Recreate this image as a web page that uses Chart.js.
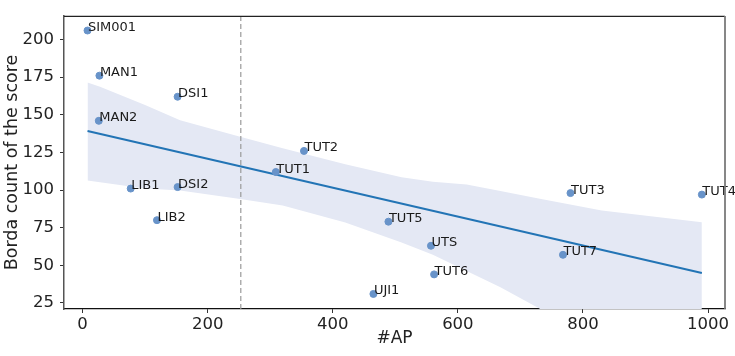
<!DOCTYPE html>
<html>
<head>
<meta charset="utf-8">
<script src="https://cdn.jsdelivr.net/npm/chart.js@4/dist/chart.umd.min.js"></script>
<style>
    html, body { margin: 0; padding: 0; background: #fff; }
    #wrap { width: 735px; height: 356px; }
</style>
</head>
<body>
<div id="wrap"><canvas id="chart"></canvas></div>
<script>
// Données
const names = ['SIM001', 'MAN1', 'MAN2', 'DSI1', 'LIB1', 'DSI2', 'LIB2', 'TUT1', 'TUT2',
               'TUT5', 'UTS', 'TUT6', 'UJI1', 'TUT3', 'TUT4', 'TUT7'];
const apCount = [8, 27, 26, 152, 77, 152, 119, 309, 354, 489, 557, 562, 465, 780, 990, 768];
const bordaScore = [206, 176, 146, 162, 101, 102, 80, 112, 126, 79, 63, 44, 31, 98, 97, 57];

// Droite de régression (extrémités)
const regX = [8, 990];
const regY = [139.3, 44.9];

// Intervalle de confiance
const bandX = [8, 28, 100, 156, 252, 320, 420, 510, 560, 614, 668, 731, 830, 990];
const bandUpper = [171.4, 168.7, 156.5, 146.3, 135.4, 127.8, 117.1, 108.6, 105.6, 103.7, 99.4, 94.3, 86.4, 78.6];
const bandLower = [106.3, 105.2, 101.0, 99.8, 94.1, 89.8, 78.5, 65.1, 57.1, 46.2, 35.5, 21.1, -2, -38];

// Seuil vertical
const thresholdX = 253;

// Axes
const xLimits = [-29.6, 1027];
const yLimits = [21.0, 215.7];
const xTicks = [0, 200, 400, 600, 800, 1000];
const yTicks = [25, 50, 75, 100, 125, 150, 175, 200];

const FONT = 'DejaVu Sans';

function toXY(xs, ys) {
    return xs.map((x, i) => ({ x: x, y: ys[i] }));
}

// Étiquettes des points + cadre haut/droite
const extras = {
    id: 'extras',
    afterDatasetsDraw(chart) {
        const ctx = chart.ctx;
        const meta = chart.getDatasetMeta(0);
        ctx.save();
        ctx.font = '13px "' + FONT + '"';
        ctx.fillStyle = '#1a1a1a';
        ctx.textAlign = 'left';
        ctx.textBaseline = 'alphabetic';
        meta.data.forEach((pt, i) => {
            ctx.fillText(names[i], pt.x + 0.5, pt.y + 0.5);
        });
        ctx.restore();
    },
    afterDraw(chart) {
        const a = chart.chartArea;
        const ctx = chart.ctx;
        ctx.save();
        ctx.strokeStyle = '#222';
        ctx.lineWidth = 1.2;
        ctx.beginPath();
        ctx.moveTo(a.left, a.top + 0.5);
        ctx.lineTo(a.right, a.top + 0.5);
        ctx.stroke();
        ctx.strokeStyle = '#7a7a7a';
        ctx.lineWidth = 1.8;
        ctx.beginPath();
        ctx.moveTo(a.right, a.top);
        ctx.lineTo(a.right, a.bottom);
        ctx.stroke();
        ctx.restore();
    }
};

const ctx = document.getElementById('chart').getContext('2d');
new Chart(ctx, {
    type: 'scatter',
    data: {
        datasets: [
            {
                label: 'points',
                data: toXY(apCount, bordaScore),
                backgroundColor: '#6893c9',
                borderColor: '#6893c9',
                pointRadius: 3.5,
                order: 0
            },
            {
                label: 'regression',
                data: toXY(regX, regY),
                showLine: true,
                borderColor: '#2274b5',
                borderWidth: 2,
                pointRadius: 0,
                order: 1
            },
            {
                label: 'threshold',
                data: toXY([thresholdX, thresholdX], yLimits),
                showLine: true,
                borderColor: '#9a9a9a',
                borderWidth: 1.2,
                borderDash: [5, 3],
                pointRadius: 0,
                order: 2
            },
            {
                label: 'lower',
                data: toXY(bandX, bandLower),
                showLine: true,
                borderWidth: 0,
                borderColor: 'rgba(0,0,0,0)',
                pointRadius: 0,
                fill: false,
                order: 4
            },
            {
                label: 'upper',
                data: toXY(bandX, bandUpper),
                showLine: true,
                borderWidth: 0,
                borderColor: 'rgba(0,0,0,0)',
                backgroundColor: '#e4e8f4',
                pointRadius: 0,
                fill: '-1',
                order: 3
            }
        ]
    },
    options: {
        responsive: true,
        maintainAspectRatio: false,
        animation: false,
        layout: { padding: { top: 5, right: 10, left: 0, bottom: 0 } },
        plugins: {
            legend: { display: false },
            tooltip: { enabled: false }
        },
        scales: {
            x: {
                type: 'linear',
                min: xLimits[0],
                max: xLimits[1],
                afterBuildTicks: s => { s.ticks = xTicks.map(v => ({ value: v })); },
                afterFit: s => { s.height = 47; },
                grid: { drawOnChartArea: false, tickLength: 4, color: '#333' },
                border: { display: true, color: '#111', width: 1.2 },
                ticks: {
                    color: '#222', padding: 2, maxRotation: 0,
                    font: { family: FONT, size: 16.5 },
                    callback: v => String(v)
                },
                title: {
                    display: true,
                    text: '#AP',
                    color: '#222',
                    font: { family: FONT, size: 17 },
                    padding: { top: 0, bottom: 7 }
                }
            },
            y: {
                type: 'linear',
                min: yLimits[0],
                max: yLimits[1],
                afterBuildTicks: s => { s.ticks = yTicks.map(v => ({ value: v })); },
                afterFit: s => { s.width = 64; },
                grid: { drawOnChartArea: false, tickLength: 4, color: '#333' },
                border: { display: true, color: '#555', width: 1.5 },
                ticks: {
                    color: '#222', padding: 6,
                    font: { family: FONT, size: 16.5 },
                    callback: v => String(v)
                },
                title: {
                    display: true,
                    text: 'Borda count of the score',
                    color: '#222',
                    font: { family: FONT, size: 17.5 },
                    padding: { top: 2, bottom: 0 }
                }
            }
        }
    },
    plugins: [extras]
});
</script>
</body>
</html>
